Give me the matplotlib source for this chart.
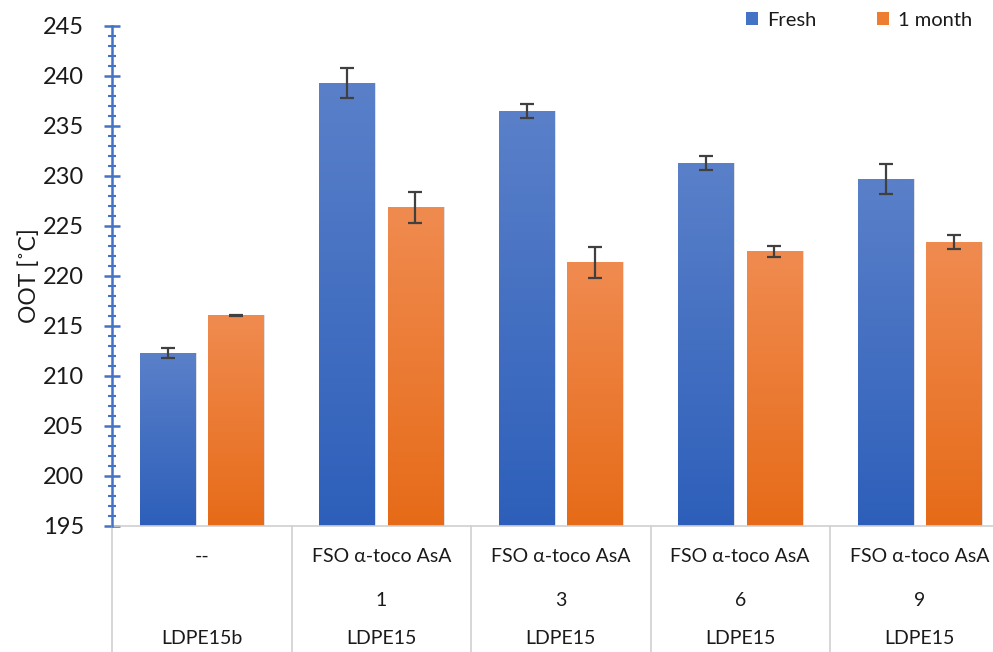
import matplotlib
matplotlib.use("Agg")
import matplotlib.pyplot as plt
import numpy as np
from matplotlib.colors import LinearSegmentedColormap
from matplotlib.ticker import MultipleLocator
import matplotlib.transforms as mtransforms
from matplotlib.patches import Patch

# ---- data ----
row1 = ["--", "FSO \u03b1-toco AsA", "FSO \u03b1-toco AsA", "FSO \u03b1-toco AsA", "FSO \u03b1-toco AsA"]
row2 = ["", "1", "3", "6", "9"]
row3 = ["LDPE15b", "LDPE15", "LDPE15", "LDPE15", "LDPE15"]
fresh = [212.3, 239.3, 236.5, 231.3, 229.7]
fresh_err = [0.5, 1.5, 0.7, 0.7, 1.5]
month = [216.1, 226.9, 221.4, 222.5, 223.4]
month_err = [0.05, 1.55, 1.55, 0.55, 0.7]
series_names = ["Fresh", "1 month"]

plt.rcParams['font.family'] = ['Lato', 'DejaVu Sans']

W, H = 993, 652
fig = plt.figure(figsize=(W / 100, H / 100), dpi=100)
left_px, right_px, top_px, bot_px = 112, 1009.5, 26, 526
ax = fig.add_axes([left_px / W, 1 - bot_px / H, (right_px - left_px) / W, (bot_px - top_px) / H])

n = len(fresh)
x = np.arange(n) + 0.5
bw = 0.31
off = 0.19
ymin, ymax = 195, 245

blue_cmap = LinearSegmentedColormap.from_list("b", ["#2d5fba", "#5a80c9"])
orange_cmap = LinearSegmentedColormap.from_list("o", ["#e66b18", "#f08b50"])

def grad_bars(xs, vals, cmap, zorder=2):
    bars = ax.bar(xs, np.array(vals) - ymin, bw, bottom=ymin, color="none", edgecolor="none", zorder=zorder)
    grad = np.linspace(0, 1, 256).reshape(-1, 1)
    for b in bars:
        x0, y0 = b.get_x(), b.get_y()
        w, h = b.get_width(), b.get_height()
        ax.bar(x0 + w / 2 + 0.008, h, w, bottom=y0, color="#000000", alpha=0.12, zorder=zorder - 0.5, edgecolor="none")
        im = ax.imshow(grad, cmap=cmap, origin="lower", aspect="auto",
                       extent=[x0, x0 + w, y0, y0 + h], zorder=zorder)
        im.set_clip_path(b)
    return bars

grad_bars(x - off, fresh, blue_cmap)
grad_bars(x + off, month, orange_cmap)

ax.errorbar(x - off, fresh, yerr=fresh_err, fmt="none", ecolor="#404040", elinewidth=1.6, capsize=5, capthick=1.6, zorder=5)
ax.errorbar(x + off, month, yerr=month_err, fmt="none", ecolor="#404040", elinewidth=1.6, capsize=5, capthick=1.6, zorder=5)

ax.set_xlim(0, n)
ax.set_ylim(ymin, ymax)

for s in ["top", "right"]:
    ax.spines[s].set_visible(False)
ax.spines["bottom"].set_color("#d0d0d0")
ax.spines["bottom"].set_linewidth(1.2)
ax.spines["left"].set_color("#4472c4")
ax.spines["left"].set_linewidth(1.8)
ax.spines["left"].set_zorder(6)

ax.yaxis.set_major_locator(MultipleLocator(5))
ax.yaxis.set_minor_locator(MultipleLocator(1))
ax.tick_params(axis="y", which="major", direction="inout", length=12, width=1.8, color="#4472c4",
               labelsize=17, pad=14, labelcolor="#1a1a1a")
ax.tick_params(axis="y", which="minor", direction="inout", length=6, width=1.5, color="#4472c4")
ax.set_xticks([])
ax.set_ylabel("OOT [\u02daC]", fontsize=16.5, color="#1a1a1a", labelpad=2)

# category table below
trans = mtransforms.blended_transform_factory(ax.transData, fig.transFigure)
y_top = 1 - bot_px / H
for i in range(n + 1):
    ax.plot([i, i], [y_top, 0], transform=trans, color="#d0d0d0", lw=1.2, clip_on=False)
for i in range(n):
    ax.text(x[i], 1 - 556 / H, row1[i], transform=trans, ha="center", va="center", fontsize=14, color="#1a1a1a")
    ax.text(x[i], 1 - 600 / H, row2[i], transform=trans, ha="center", va="center", fontsize=14, color="#1a1a1a")
    ax.text(x[i], 1 - 639 / H, row3[i], transform=trans, ha="center", va="center", fontsize=14, color="#1a1a1a")

# legend
handles = [Patch(facecolor="#4472c4", edgecolor="none"), Patch(facecolor="#ed7d31", edgecolor="none")]
fig.legend(handles, series_names, loc="center", bbox_to_anchor=(859 / W, 1 - 20 / H), ncol=2,
           frameon=False, fontsize=14.5, handlelength=0.6, handleheight=0.6, handletextpad=0.45,
           columnspacing=3.0, labelcolor="#1a1a1a")

fig.savefig("out.png", dpi=100)
